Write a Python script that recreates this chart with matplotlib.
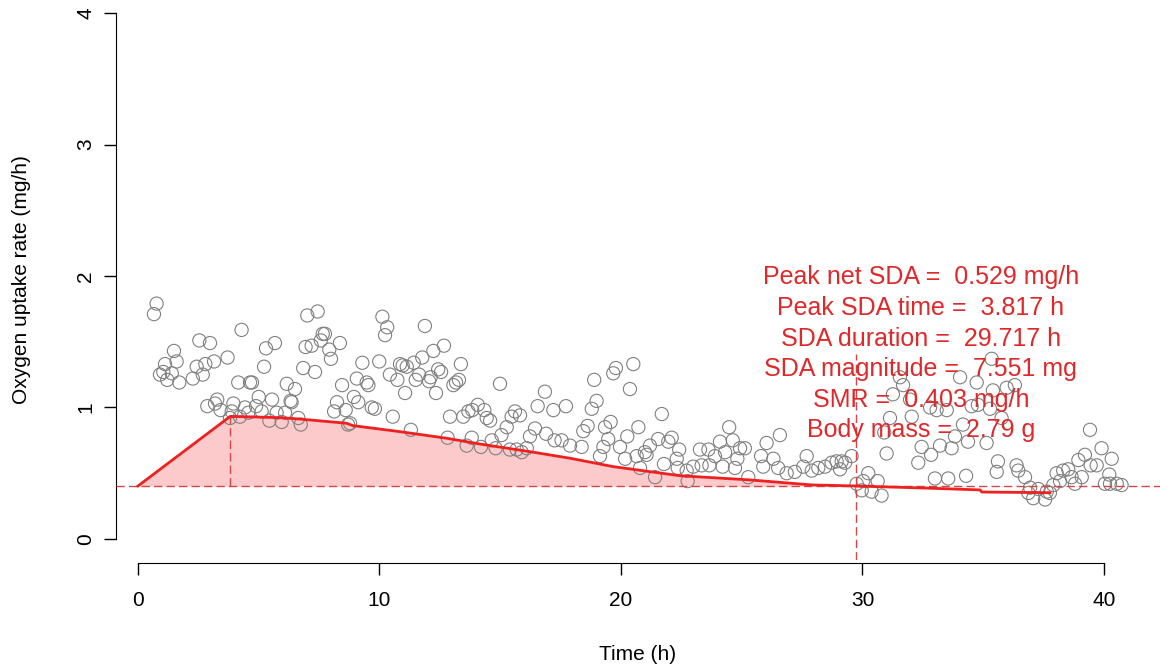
import matplotlib
matplotlib.use('Agg')
import matplotlib.pyplot as plt

plt.rcParams['font.family'] = ['Liberation Sans', 'DejaVu Sans']

# measured oxygen uptake (time in h, rate in mg/h)
time_h = [0.66, 0.77, 0.91, 1.05, 1.12, 1.21, 1.40, 1.49, 1.60, 1.71, 2.27, 2.43, 2.54, 2.68, 2.79, 2.87,
          2.98, 3.15, 3.19, 3.28, 3.42, 3.71, 3.81, 3.88, 3.95, 4.15, 4.22, 4.29, 4.43, 4.57, 4.64, 4.72,
          4.89, 5.00, 5.12, 5.22, 5.30, 5.44, 5.55, 5.67, 5.74, 5.95, 6.09, 6.16, 6.32, 6.36, 6.50, 6.64,
          6.74, 6.84, 6.94, 7.01, 7.19, 7.33, 7.44, 7.57, 7.65, 7.74, 7.92, 7.99, 8.12, 8.24, 8.36, 8.45,
          8.60, 8.70, 8.78, 8.94, 9.06, 9.12, 9.29, 9.47, 9.54, 9.68, 9.81, 9.99, 10.12, 10.23, 10.32, 10.43,
          10.55, 10.74, 10.85, 10.96, 11.06, 11.13, 11.30, 11.42, 11.50, 11.64, 11.77, 11.88, 12.05, 12.12,
          12.23, 12.34, 12.43, 12.55, 12.67, 12.82, 12.92, 13.06, 13.17, 13.29, 13.37, 13.47, 13.61, 13.68,
          13.82, 13.84, 14.07, 14.20, 14.34, 14.44, 14.58, 14.65, 14.81, 14.99, 15.05, 15.27, 15.40, 15.47,
          15.61, 15.68, 15.82, 15.89, 16.10, 16.23, 16.44, 16.55, 16.85, 16.90, 17.20, 17.25, 17.54, 17.72,
          17.89, 18.37, 18.44, 18.62, 18.79, 18.89, 18.99, 19.13, 19.27, 19.34, 19.47, 19.57, 19.68, 19.79,
          19.96, 20.17, 20.26, 20.37, 20.51, 20.65, 20.72, 20.79, 20.99, 21.06, 21.20, 21.41, 21.54, 21.69,
          21.78, 21.96, 22.10, 22.31, 22.35, 22.41, 22.72, 22.76, 22.99, 23.27, 23.34, 23.62, 23.66, 23.89,
          24.10, 24.21, 24.31, 24.48, 24.63, 24.72, 24.82, 24.93, 25.13, 25.27, 25.80, 25.89, 26.03, 26.31,
          26.51, 26.58, 26.86, 27.20, 27.55, 27.69, 27.90, 28.17, 28.45, 28.72, 28.93, 29.07, 29.14, 29.28,
          29.55, 29.76, 29.97, 30.03, 30.24, 30.38, 30.63, 30.79, 30.90, 31.00, 31.14, 31.26, 31.55, 31.68,
          31.97, 32.04, 32.31, 32.45, 32.80, 32.84, 33.00, 33.07, 33.21, 33.49, 33.55, 33.69, 33.83, 34.04,
          34.16, 34.29, 34.37, 34.52, 34.73, 34.78, 35.14, 35.28, 35.35, 35.40, 35.56, 35.61, 35.76, 35.97,
          36.31, 36.38, 36.45, 36.73, 36.87, 36.94, 37.07, 37.28, 37.56, 37.63, 37.76, 37.90, 38.04, 38.18,
          38.31, 38.52, 38.66, 38.80, 38.94, 39.08, 39.21, 39.42, 39.45, 39.70, 39.90, 40.04, 40.22, 40.25,
          40.32, 40.53, 40.73]
mo2 = [1.71, 1.79, 1.25, 1.27, 1.33, 1.21, 1.26, 1.43, 1.35, 1.19, 1.22, 1.31, 1.51, 1.25, 1.33, 1.01,
       1.49, 1.35, 1.03, 1.06, 0.98, 1.38, 0.92, 0.97, 1.03, 1.19, 0.93, 1.59, 1.00, 0.96, 1.19, 1.19,
       1.01, 1.08, 0.97, 1.31, 1.45, 0.90, 1.06, 1.49, 0.96, 0.89, 0.96, 1.18, 1.05, 1.04, 1.14, 0.92,
       0.87, 1.30, 1.46, 1.70, 1.47, 1.27, 1.73, 1.51, 1.56, 1.56, 1.44, 1.37, 0.97, 1.04, 1.49, 1.17,
       0.98, 0.87, 0.88, 1.08, 1.22, 1.04, 1.34, 1.19, 1.17, 1.00, 0.99, 1.35, 1.69, 1.55, 1.61, 1.25,
       0.93, 1.21, 1.33, 1.32, 1.11, 1.31, 0.83, 1.34, 1.21, 1.25, 1.38, 1.62, 1.20, 1.23,
       1.43, 1.11, 1.29, 1.27, 1.47, 0.77, 0.93, 1.17, 1.19, 1.21, 1.33, 0.93, 0.71, 0.97,
       0.77, 0.98, 1.02, 0.70, 0.98, 0.92, 0.90, 0.75, 0.69, 1.18, 0.79, 0.85, 0.68, 0.93,
       0.97, 0.68, 0.94, 0.66, 0.69, 0.78, 0.84, 1.01, 1.12, 0.80, 0.98, 0.75, 0.75, 1.01,
       0.71, 0.70, 0.82, 0.86, 0.99, 1.21, 1.05, 0.63, 0.70, 0.85, 0.76, 0.89, 1.26, 1.30,
       0.70, 0.61, 0.78, 1.14, 1.33, 0.63, 0.85, 0.54, 0.66, 0.64, 0.71, 0.47, 0.76, 0.95,
       0.57, 0.74, 0.77, 0.61, 0.54, 0.68, 0.52, 0.44, 0.55, 0.68, 0.56, 0.68, 0.56, 0.63,
       0.74, 0.55, 0.66, 0.85, 0.75, 0.54, 0.61, 0.69, 0.69, 0.47, 0.63, 0.55, 0.73, 0.61,
       0.54, 0.79, 0.50, 0.51, 0.55, 0.63, 0.52, 0.54, 0.55, 0.58, 0.59, 0.53, 0.59, 0.58,
       0.63, 0.42, 0.37, 0.44, 0.50, 0.36, 0.44, 0.33, 0.81, 0.65, 0.92, 1.10, 1.23, 1.17,
       1.06, 0.93, 0.58, 0.70, 1.00, 0.64, 0.46, 0.98, 0.71, 0.98, 0.46, 0.69, 0.78, 1.23,
       0.87, 0.48, 0.74, 1.01, 1.19, 1.02, 0.73, 0.99, 1.37, 1.13, 0.51, 0.59, 0.92, 1.15,
       1.17, 0.56, 0.52, 0.47, 0.35, 0.39, 0.31, 0.38, 0.30, 0.36, 0.35, 0.41, 0.50, 0.44,
       0.52, 0.53, 0.47, 0.42, 0.60, 0.47, 0.64, 0.83, 0.56, 0.56, 0.69, 0.42, 0.49, 0.42,
       0.61, 0.42, 0.41]

# fitted SDA curve
curve_t = [0, 3.817, 4.43, 5.95, 6.63, 8.64, 8.90, 10.85, 12.78, 14.16, 16.23, 17.89, 19.68,
           22.44, 25.34, 27.90, 29.717, 32.79, 34.87, 34.94, 37.76]
curve_y = [0.403, 0.932, 0.930, 0.922, 0.913, 0.880, 0.862, 0.816, 0.766, 0.722, 0.664, 0.614, 0.550,
           0.481, 0.449, 0.411, 0.403, 0.386, 0.373, 0.357, 0.352]

smr = 0.403
peak_time = 3.817
peak_y = 0.932
duration = 29.717

labels = ['Peak net SDA =  0.529 mg/h',
          'Peak SDA time =  3.817 h',
          'SDA duration =  29.717 h',
          'SDA magnitude =  7.551 mg',
          'SMR =  0.403 mg/h',
          'Body mass =  2.79 g']

fig = plt.figure(figsize=(11.6, 6.7), dpi=100)
ax = fig.add_axes([116 / 1160, 110 / 670, 1044 / 1160, 560 / 670])
ax.set_xlim(-0.911, 42.32)
ax.set_ylim(-0.16, 4.099)

red = '#ee2020'
dash_col = '#d84545'

# shaded SDA area up to the end of the duration
fill_t = [t for t in curve_t if t <= duration]
fill_y = curve_y[:len(fill_t)]
ax.fill_between(fill_t, [smr] * len(fill_t), fill_y, color='#fccaca', lw=0, zorder=1)

ax.scatter(time_h, mo2, s=90, facecolors='none', edgecolors='#808080', linewidths=0.8, zorder=2)

ax.axhline(smr, color=dash_col, lw=1, dashes=(6, 3), zorder=3)
ax.plot([peak_time, peak_time], [smr, peak_y], color=dash_col, lw=1, dashes=(6, 3), zorder=3)
ax.plot([duration, duration], [-0.16, 1.41], color=dash_col, lw=1, dashes=(6, 3), zorder=3)
ax.plot(curve_t, curve_y, color=red, lw=2, zorder=4)

for i, s in enumerate(labels):
    ax.text(32.42, 1.99 - i * 0.233, s, ha='center', va='center', fontsize=18,
            color='#e0282a', zorder=5)

# R style axes
for side in ['top', 'right']:
    ax.spines[side].set_visible(False)
ax.spines['left'].set_bounds(0, 4)
ax.spines['bottom'].set_bounds(0, 40)
ax.spines['bottom'].set_position(('outward', 2))
ax.set_xticks([0, 10, 20, 30, 40])
ax.set_yticks([0, 1, 2, 3, 4])
ax.tick_params(axis='x', length=8.5, width=1, pad=12, labelsize=15)
ax.tick_params(axis='y', length=9, width=1, pad=6, labelsize=15, labelrotation=90)
for lab in ax.get_yticklabels():
    lab.set_va('center')

ax.set_xlabel('Time (h)', fontsize=15)
ax.xaxis.set_label_coords(0.5, -0.152)
ax.set_ylabel('Oxygen uptake rate (mg/h)', fontsize=15)
ax.yaxis.set_label_coords(-0.081, 0.5)

fig.savefig('out.png', dpi=100)
